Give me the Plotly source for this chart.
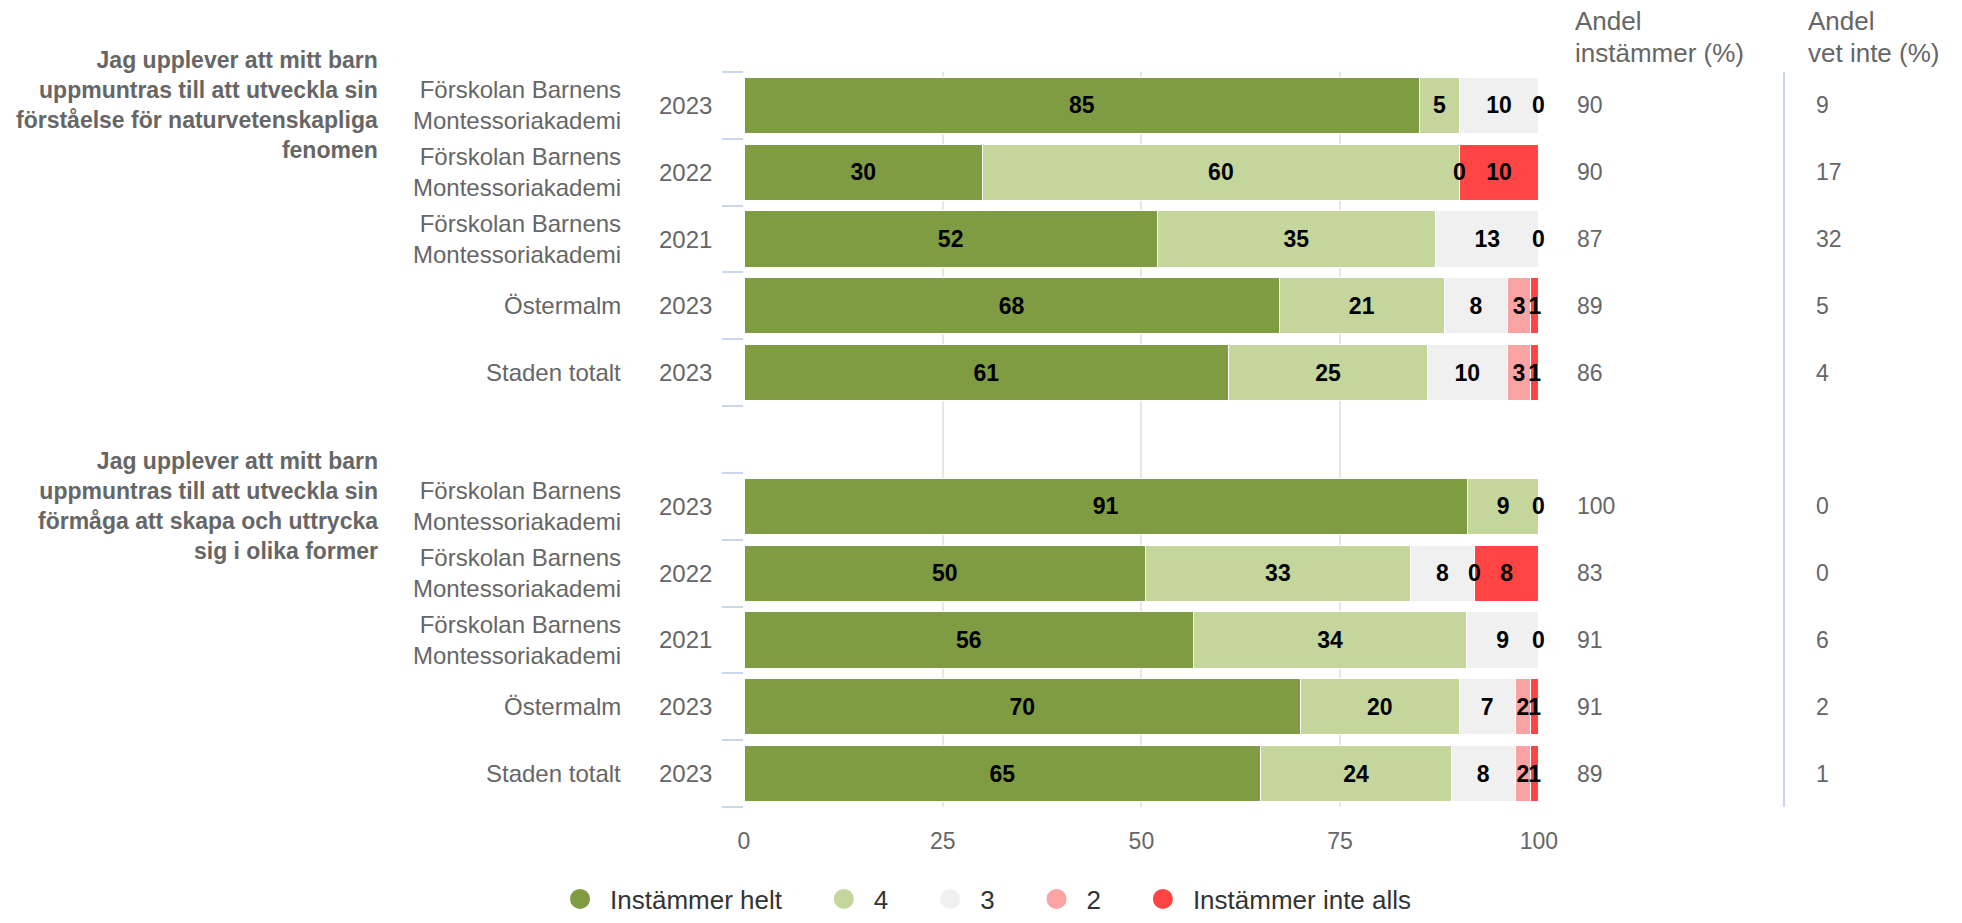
import plotly.graph_objects as go

# ---------------- data ----------------
questions = [
    "Jag upplever att mitt barn<br>uppmuntras till att utveckla sin<br>förståelse för naturvetenskapliga<br>fenomen",
    "Jag upplever att mitt barn<br>uppmuntras till att utveckla sin<br>förmåga att skapa och uttrycka<br>sig i olika former",
]
entities = ["Förskolan Barnens<br>Montessoriakademi", "Förskolan Barnens<br>Montessoriakademi",
            "Förskolan Barnens<br>Montessoriakademi", "Östermalm", "Staden totalt"]
years = ["2023", "2022", "2021", "2023", "2023"]

series_names = ["Instämmer helt", "4", "3", "2", "Instämmer inte alls"]
series_colors = ["#7f9c42", "#c4d69b", "#f0f0f0", "#f9a3a3", "#ff4444"]

# question 1
q1_helt = [85, 30, 52, 68, 61]
q1_4 = [5, 60, 35, 21, 25]
q1_3 = [10, 0, 13, 8, 10]
q1_2 = [0, 0, 0, 3, 3]
q1_inte = [0, 10, 0, 1, 1]
q1_andel = [90, 90, 87, 89, 86]
q1_vetinte = [9, 17, 32, 5, 4]

# question 2
q2_helt = [91, 50, 56, 70, 65]
q2_4 = [9, 33, 34, 20, 24]
q2_3 = [0, 8, 9, 7, 8]
q2_2 = [0, 0, 0, 2, 2]
q2_inte = [0, 8, 0, 1, 1]
q2_andel = [100, 83, 91, 91, 89]
q2_vetinte = [0, 0, 6, 2, 1]

header_andel = ["Andel", "instämmer (%)"]
header_vetinte = ["Andel", "vet inte (%)"]
x_ticks = [0, 25, 50, 75, 100]

# ---------------- build ----------------
FONT = "Liberation Sans, Arial, sans-serif"
GRAY = "#666666"

rows_q1 = list(range(0, 5))
rows_q2 = list(range(6, 11))
rows = rows_q1 + rows_q2
series = [q1_helt + q2_helt, q1_4 + q2_4, q1_3 + q2_3, q1_2 + q2_2, q1_inte + q2_inte]
andel = q1_andel + q2_andel
vetinte = q1_vetinte + q2_vetinte
ent_all = entities + entities
yrs_all = years + years

fig = go.Figure()
for name, color, vals in zip(series_names, series_colors, series):
    fig.add_trace(go.Bar(
        y=rows, x=vals, orientation="h", name=name,
        marker=dict(color=color, line=dict(color="white", width=1)),
        width=0.84,
        text=[str(v) if v > 0 else "" for v in vals],
        textposition="inside", insidetextanchor="middle", textangle=0,
        textfont=dict(family=FONT, size=23, color="#000000", weight="bold"),
        showlegend=False, hoverinfo="skip", cliponaxis=False,
    ))

# legend entries (circle symbols)
pad = "\u00a0" * 3 + "\u2009"
for name, color in zip(series_names, series_colors):
    fig.add_trace(go.Scatter(
        x=[None], y=[None], mode="markers", name=name + pad,
        marker=dict(symbol="circle", size=26, color=color, line=dict(color=color, width=4)),
        showlegend=True, hoverinfo="skip",
    ))

annotations = []
# zero-value labels placed at the stack position computed from data
for i, r in enumerate(rows):
    vals = [s[i] for s in series]
    total = sum(vals)
    cum = 0.0
    seen = set()
    for v in vals:
        if v == 0:
            pos = round(cum / total * 100, 3)
            if pos not in seen:
                seen.add(pos)
                annotations.append(dict(
                    x=pos, y=r, xref="x", yref="y", text="0", showarrow=False,
                    xanchor="center", yanchor="middle",
                    font=dict(family=FONT, size=23, color="#000000", weight="bold")))
        cum += v

# row labels
for i, r in enumerate(rows):
    annotations.append(dict(x=-0.1522, y=r, xref="paper", yref="y", text=ent_all[i],
                            showarrow=False, xanchor="right", yanchor="middle", align="right",
                            font=dict(family=FONT, size=24, color=GRAY)))
    annotations.append(dict(x=-0.0742, y=r, xref="paper", yref="y", text=yrs_all[i],
                            showarrow=False, xanchor="center", yanchor="middle",
                            font=dict(family=FONT, size=24, color=GRAY)))
    annotations.append(dict(x=1.0453, y=r, xref="paper", yref="y", text=str(andel[i]),
                            showarrow=False, xanchor="left", yanchor="middle",
                            font=dict(family=FONT, size=23, color=GRAY)))
    annotations.append(dict(x=1.3459, y=r, xref="paper", yref="y", text=str(vetinte[i]),
                            showarrow=False, xanchor="left", yanchor="middle",
                            font=dict(family=FONT, size=23, color=GRAY)))

# question labels
for q, r in zip(questions, [rows_q1[0], rows_q2[0]]):
    annotations.append(dict(x=-0.4579, y=r, xref="paper", yref="y", text=q,
                            showarrow=False, xanchor="right", yanchor="middle", align="right",
                            font=dict(family=FONT, size=23, color=GRAY, weight="bold")))

# column headers (one annotation per line)
for hx, lines in [(1.0428, header_andel), (1.3358, header_vetinte)]:
    for hy, line in zip([1.0694, 1.0259], lines):
        annotations.append(dict(x=hx, y=hy, xref="paper", yref="paper", text=line,
                                showarrow=False, xanchor="left", yanchor="middle", align="left",
                                font=dict(family=FONT, size=26, color=GRAY)))

fig.update_layout(
    width=1962, height=923,
    margin=dict(l=744, r=423, t=72, b=116, autoexpand=False),
    paper_bgcolor="white", plot_bgcolor="white",
    barmode="stack", barnorm="percent",
    uniformtext=dict(minsize=23, mode="show"),
    font=dict(family=FONT, size=23, color=GRAY),
    annotations=annotations,
    shapes=[dict(type="line", xref="paper", yref="paper", x0=1.3082, x1=1.3082, y0=0, y1=1,
                 line=dict(color="#ccd6eb", width=2))],
    legend=dict(orientation="h", xref="paper", yref="paper", x=-0.244, y=-0.1252,
                xanchor="left", yanchor="middle", traceorder="normal", itemwidth=50,
                font=dict(family=FONT, size=26, color="#333333"), itemsizing="trace"),
    xaxis=dict(range=[0, 100.02], tickvals=x_ticks, showgrid=True, gridcolor="#e6e6e6", gridwidth=2,
               zeroline=False, showline=False, ticks="", ticklabelstandoff=18,
               tickfont=dict(family=FONT, size=23, color=GRAY), fixedrange=True),
    yaxis=dict(range=[10.5, -0.5], tickvals=[i - 0.5 for i in range(12)], showticklabels=False,
               ticks="outside", ticklen=21, tickwidth=2, tickcolor="#ccd6eb",
               showgrid=False, zeroline=False, showline=False, fixedrange=True),
)

# remove the browser's default 8px body margin so the figure fills the window exactly
fig.write_html("out.html", config={"displayModeBar": False},
               post_script="document.body.style.margin = '0px';")
